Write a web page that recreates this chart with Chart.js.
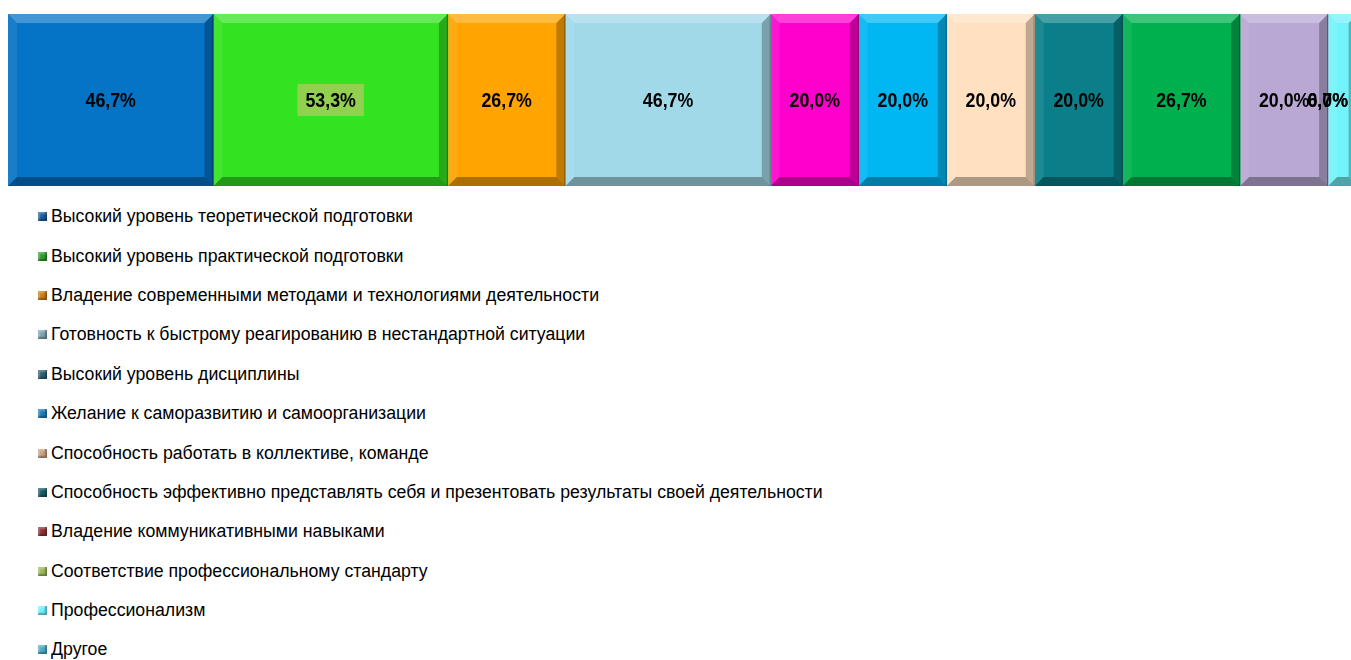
<!DOCTYPE html>
<html>
<head>
<meta charset="utf-8">
<script src="https://cdn.jsdelivr.net/npm/chart.js@4.4.1/dist/chart.umd.min.js"></script>
<style>
    body { margin: 0; background: #fff; width: 1351px; height: 660px; overflow: hidden; position: relative; }
    #bar-wrap { position: absolute; left: 0; top: 0; width: 1351px; height: 190px; }
    #legend { position: absolute; left: 38px; top: 197px; font-family: "Liberation Sans", Arial, sans-serif; font-size: 18px; color: #000; }
    .row { height: 39.4px; display: flex; align-items: center; white-space: nowrap; }
    .box { width: 9px; height: 9px; margin-right: 4px; flex: none; box-shadow: inset -2px -2px 2px rgba(0,0,0,0.35), inset 2px 2px 2px rgba(255,255,255,0.3); }
    .txt { display: inline-block; transform: scaleX(0.983); transform-origin: left center; }
</style>
</head>
<body>
<div id="bar-wrap"><canvas id="share-chart" width="1351" height="190"></canvas></div>
<div id="legend"></div>
<script>
const categories = [
    'Высокий уровень теоретической подготовки',
    'Высокий уровень практической подготовки',
    'Владение современными методами и технологиями деятельности',
    'Готовность к быстрому реагированию в нестандартной ситуации',
    'Высокий уровень дисциплины',
    'Желание к саморазвитию и самоорганизации',
    'Способность работать в коллективе, команде',
    'Способность эффективно представлять себя и презентовать результаты своей деятельности',
    'Владение коммуникативными навыками',
    'Соответствие профессиональному стандарту',
    'Профессионализм',
    'Другое'
];
const shares = [46.7, 53.3, 26.7, 46.7, 20.0, 20.0, 20.0, 20.0, 26.7, 20.0, 6.7, 0.0];

const barColors = ['#0573c6', '#33e31f', '#ffa400', '#a2d9e9', '#ff00cc', '#00b7f4', '#ffe0c1', '#0a7f89', '#00b04f', '#b9a8d3', '#72f2fa', '#4bacc6'];
const legendColors = ['#1c5c9c', '#2f9e2f', '#cf7b12', '#7fa4b4', '#2b5f70', '#1b7cb4', '#c9a283', '#175b63', '#8c3232', '#9bbb59', '#6ff0ff', '#4bacc6'];
const labelBackgrounds = [null, '#92d050', null, null, null, null, null, null, null, null, null, null];

function poly(ctx, pts, fill) {
    ctx.beginPath();
    ctx.moveTo(pts[0][0], pts[0][1]);
    pts.slice(1).forEach(p => ctx.lineTo(p[0], p[1]));
    ctx.closePath();
    ctx.fillStyle = fill;
    ctx.fill();
}

// bevel edges + value labels like the office chart
const bevelPlugin = {
    id: 'bevel',
    afterDatasetsDraw(chart) {
        const ctx = chart.ctx;
        const area = chart.chartArea;
        ctx.save();
        ctx.beginPath();
        ctx.rect(area.left, area.top, area.right - area.left, area.bottom - area.top);
        ctx.clip();
        const boxes = [];
        chart.data.datasets.forEach((ds, i) => {
            const bar = chart.getDatasetMeta(i).data[0];
            const { x, y, base, height } = bar.getProps(['x', 'y', 'base', 'height'], true);
            const l = Math.min(x, base), r = Math.max(x, base);
            const t = y - height / 2, b = y + height / 2;
            boxes.push({ l, r, t, b, y });
            if (r - l < 1) return;
            const d = Math.min(9, (r - l) / 2);
            poly(ctx, [[l, t], [r, t], [r - d, t + d], [l + d, t + d]], 'rgba(255,255,255,0.25)');
            poly(ctx, [[l, t], [l + d, t + d], [l + d, b - d], [l, b]], 'rgba(255,255,255,0.08)');
            poly(ctx, [[r, t], [r, b], [r - d, b - d], [r - d, t + d]], 'rgba(0,0,0,0.25)');
            poly(ctx, [[l, b], [l + d, b - d], [r - d, b - d], [r, b]], 'rgba(0,0,0,0.32)');
            ctx.fillStyle = 'rgba(0,0,0,0.35)';
            ctx.fillRect(r - 1, t, 1, b - t);
        });
        ctx.restore();

        ctx.save();
        ctx.font = 'bold 20px "Liberation Sans", Arial, sans-serif';
        ctx.textAlign = 'center';
        ctx.textBaseline = 'middle';
        const sx = 0.89;
        chart.data.datasets.forEach((ds, i) => {
            const bx = boxes[i];
            const text = ds.data[0].toFixed(1).replace('.', ',') + '%';
            const w = ctx.measureText(text).width * sx;
            let cx = (bx.l + bx.r) / 2;
            cx = Math.min(cx, area.right - w / 2 - 3);
            if (labelBackgrounds[i]) {
                ctx.fillStyle = labelBackgrounds[i];
                ctx.fillRect(cx - w / 2 - 8, bx.y - 16, w + 16, 32);
            }
            ctx.save();
            ctx.translate(cx, bx.y + 1);
            ctx.scale(sx, 1);
            ctx.fillStyle = '#000';
            ctx.fillText(text, 0, 0);
            ctx.restore();
        });
        ctx.restore();
    }
};

new Chart(document.querySelector('#share-chart').getContext('2d'), {
    type: 'bar',
    data: {
        labels: [''],
        datasets: categories.map((name, i) => ({
            label: name,
            data: [shares[i]],
            backgroundColor: barColors[i],
            borderWidth: 0,
            barPercentage: 1,
            categoryPercentage: 1
        }))
    },
    options: {
        indexAxis: 'y',
        responsive: false,
        animation: false,
        layout: { padding: { left: 8, top: 14, right: 0, bottom: 4 } },
        scales: {
            x: { stacked: true, min: 0, max: 305.3, display: false },
            y: { stacked: true, display: false }
        },
        plugins: {
            legend: { display: false },
            tooltip: { enabled: false }
        }
    },
    plugins: [bevelPlugin]
});

const legend = document.querySelector('#legend');
categories.forEach((name, i) => {
    const row = document.createElement('div');
    row.className = 'row';
    const box = document.createElement('span');
    box.className = 'box';
    box.style.background = legendColors[i];
    const txt = document.createElement('span');
    txt.className = 'txt';
    txt.textContent = name;
    row.appendChild(box);
    row.appendChild(txt);
    legend.appendChild(row);
});
</script>
</body>
</html>
